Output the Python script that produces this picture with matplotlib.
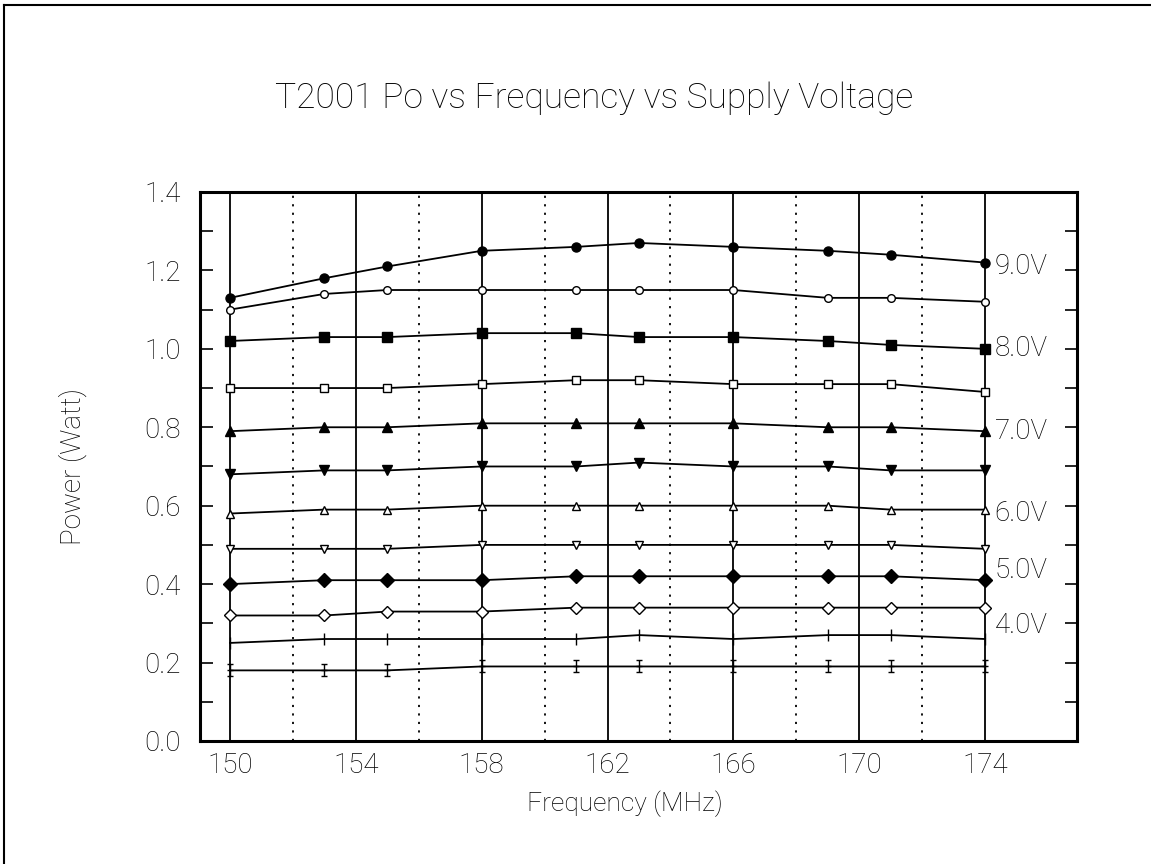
import matplotlib
matplotlib.use("Agg")
import matplotlib.pyplot as plt
from matplotlib.path import Path
from matplotlib.ticker import FixedLocator, MultipleLocator, FormatStrFormatter
from matplotlib.lines import Line2D

plt.rcParams['font.family'] = ['Roboto', 'DejaVu Sans']
plt.rcParams['font.weight'] = 'light'
plt.rcParams['axes.labelweight'] = 'light'

freq = [150, 153, 155, 158, 161, 163, 166, 169, 171, 174]

p_a = [1.13, 1.18, 1.21, 1.25, 1.26, 1.27, 1.26, 1.25, 1.24, 1.22]
p_b = [1.10, 1.14, 1.15, 1.15, 1.15, 1.15, 1.15, 1.13, 1.13, 1.12]
p_c = [1.02, 1.03, 1.03, 1.04, 1.04, 1.03, 1.03, 1.02, 1.01, 1.00]
p_d = [0.90, 0.90, 0.90, 0.91, 0.92, 0.92, 0.91, 0.91, 0.91, 0.89]
p_e = [0.79, 0.80, 0.80, 0.81, 0.81, 0.81, 0.81, 0.80, 0.80, 0.79]
p_f = [0.68, 0.69, 0.69, 0.70, 0.70, 0.71, 0.70, 0.70, 0.69, 0.69]
p_g = [0.58, 0.59, 0.59, 0.60, 0.60, 0.60, 0.60, 0.60, 0.59, 0.59]
p_h = [0.49, 0.49, 0.49, 0.50, 0.50, 0.50, 0.50, 0.50, 0.50, 0.49]
p_i = [0.40, 0.41, 0.41, 0.41, 0.42, 0.42, 0.42, 0.42, 0.42, 0.41]
p_j = [0.32, 0.32, 0.33, 0.33, 0.34, 0.34, 0.34, 0.34, 0.34, 0.34]
p_k = [0.25, 0.26, 0.26, 0.26, 0.26, 0.27, 0.26, 0.27, 0.27, 0.26]
p_l = [0.18, 0.18, 0.18, 0.19, 0.19, 0.19, 0.19, 0.19, 0.19, 0.19]

x_major_ticks = [150, 154, 158, 162, 166, 170, 174]
x_minor_ticks = [152, 156, 160, 164, 168, 172]

voltage_labels = ["9.0V", "8.0V", "7.0V", "6.0V", "5.0V", "4.0V"]
voltage_label_y = [1.21, 1.00, 0.79, 0.58, 0.435, 0.295]

title = "T2001 Po vs Frequency vs Supply Voltage"
xlabel = "Frequency (MHz)"
ylabel = "Power (Watt)"

# I-beam marker
ibeam = Path([(-0.5, 1), (0.5, 1), (0, 1), (0, -1), (-0.5, -1), (0.5, -1), (-0.6, 0), (0.6, 0)],
             [Path.MOVETO, Path.LINETO, Path.MOVETO, Path.LINETO,
              Path.MOVETO, Path.LINETO, Path.MOVETO, Path.LINETO])

series = [
    (p_a, dict(marker='o', ms=6.5, mfc='black')),
    (p_b, dict(marker='o', ms=5.5, mfc='white')),
    (p_c, dict(marker='s', ms=6.5, mfc='black')),
    (p_d, dict(marker='s', ms=6, mfc='white')),
    (p_e, dict(marker='^', ms=6.5, mfc='black')),
    (p_f, dict(marker='v', ms=6.5, mfc='black')),
    (p_g, dict(marker='^', ms=6, mfc='white')),
    (p_h, dict(marker='v', ms=6, mfc='white')),
    (p_i, dict(marker='D', ms=7, mfc='black')),
    (p_j, dict(marker='D', ms=6, mfc='white')),
    (p_k, dict(marker='|', ms=9, mfc='black')),
    (p_l, dict(marker=ibeam, ms=8, mfc='none')),
]

fig = plt.figure(figsize=(11.51, 8.64), dpi=100)
ax = fig.add_axes([0.1738, 0.1424, 0.9357 - 0.1738, 0.7778 - 0.1424])

ax.set_xlim(149.05, 176.92)
ax.set_ylim(0.0, 1.4)

ax.xaxis.set_major_locator(FixedLocator(x_major_ticks))
ax.xaxis.set_minor_locator(FixedLocator(x_minor_ticks))
ax.yaxis.set_major_locator(MultipleLocator(0.2))
ax.yaxis.set_minor_locator(MultipleLocator(0.1))
ax.yaxis.set_major_formatter(FormatStrFormatter('%.1f'))

ax.grid(True, axis='x', which='major', color='black', lw=1.3, ls='-')
ax.grid(True, axis='x', which='minor', color='black', lw=1.3, ls=(0, (1.2, 3.5)))
ax.set_axisbelow(True)

for vals, st in series:
    ax.plot(freq, vals, color='black', lw=1.3, mec='black', mew=1.0, zorder=3, **st)

for lab, yv in zip(voltage_labels, voltage_label_y):
    ax.text(174.3, yv, lab, fontsize=20, va='center', ha='left', color='black')

ax.tick_params(axis='x', which='both', length=0, pad=8, labelsize=20)
ax.tick_params(axis='y', which='both', direction='in', length=9, width=1.2,
               left=True, right=True, pad=14, labelsize=20)
for sp in ax.spines.values():
    sp.set_linewidth(2.2)

ax.set_xlabel(xlabel, fontsize=19)
ax.xaxis.set_label_coords(0.485, -0.09)
ax.set_ylabel(ylabel, fontsize=20)
ax.yaxis.set_label_coords(-0.129, 0.5)
fig.text(0.516, 0.886, title, fontsize=25.5, ha='center', va='center')

# figure border (top and left)
fig.add_artist(Line2D([0.0035, 0.0035], [0.0, 0.9945], transform=fig.transFigure, color='black', lw=1.5))
fig.add_artist(Line2D([0.0035, 1.0], [0.9945, 0.9945], transform=fig.transFigure, color='black', lw=1.5))

fig.savefig('out.png', dpi=100)
